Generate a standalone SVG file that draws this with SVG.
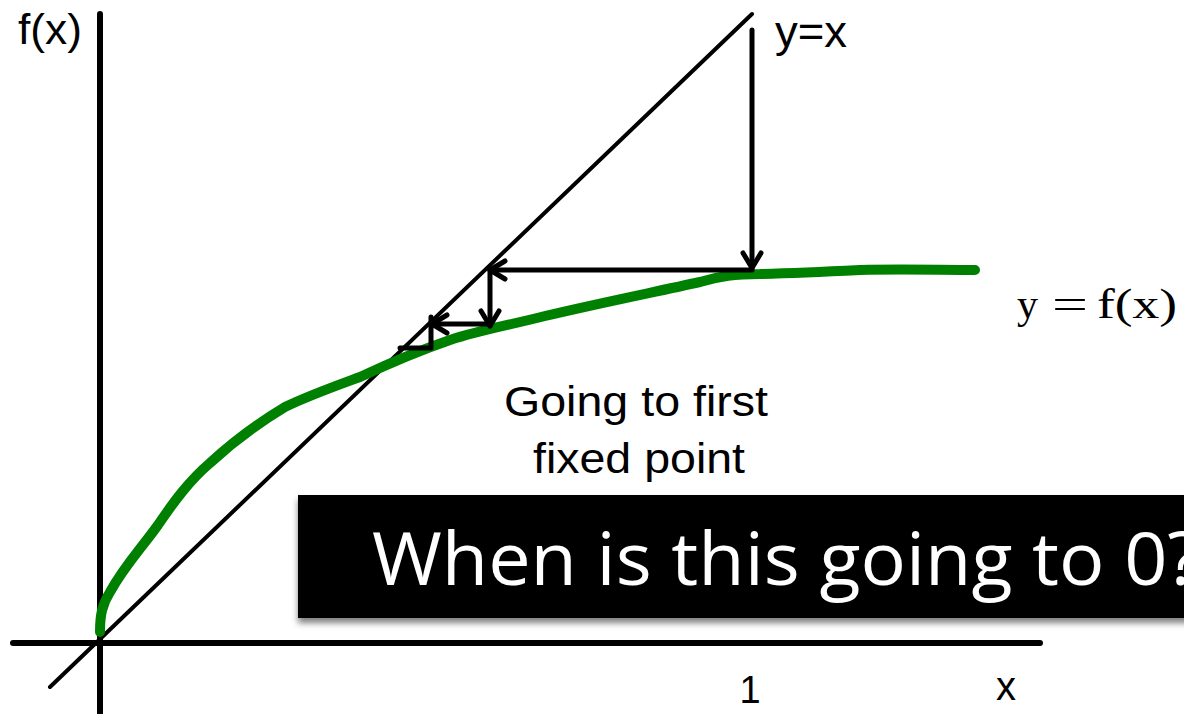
<svg xmlns="http://www.w3.org/2000/svg" width="1184" height="714" viewBox="0 0 1184 714">
<style>
.ax{stroke:#000;stroke-width:6;stroke-linecap:round;fill:none}
.diag{stroke:#000;stroke-width:4;stroke-linecap:round;fill:none}
.ln{stroke:#000;stroke-width:5;stroke-linecap:round;fill:none}
.sans{font-family:"Liberation Sans",Arial,sans-serif;fill:#000}
</style>
<defs>
<marker id="open" viewBox="0 0 24 24" refX="21" refY="12" markerWidth="24" markerHeight="24" markerUnits="userSpaceOnUse" orient="auto">
<path d="M6 3 L21 12 L6 21" fill="none" stroke="#000" stroke-width="5" stroke-linecap="round" stroke-linejoin="round"/>
</marker>
<filter id="sh" x="-5%" y="-10%" width="110%" height="130%">
<feDropShadow dx="0" dy="5" stdDeviation="3" flood-color="#000" flood-opacity="0.5"/>
</filter>
</defs>
<g id="axes">
<line class="ax" x1="100" y1="14" x2="100" y2="714"/>
<line class="ax" x1="13" y1="643" x2="1040" y2="643"/>
<line class="diag" x1="50" y1="687" x2="752" y2="14"/>
</g>
<g id="curve">
<path d="M100 632 C100 615 102 605 110 592 C125 565 140 550 158 525 C175 500 190 480 210 463 C235 440 255 425 285 407 C310 395 330 388 360 377 C390 363 415 352 450 340 C480 330 510 325 545 316 C600 303 650 293 700 282 C720 276 735 274 760 274 C800 273 840 271 860 270 C900 269 940 270 975 270" fill="none" stroke="#008000" stroke-width="10" stroke-linecap="round" stroke-linejoin="round"/>
</g>
<g id="connectors">
<line class="ln" x1="752" y1="30" x2="752" y2="268" marker-end="url(#open)"/>
<line class="ln" x1="752" y1="270" x2="490" y2="270" marker-end="url(#open)"/>
<line class="ln" x1="490" y1="270" x2="490" y2="326" marker-end="url(#open)"/>
<line class="ln" x1="490" y1="324" x2="432" y2="324" marker-end="url(#open)"/>
<polyline class="ln" points="431,317 431,348 400,348" stroke-linejoin="round"/>
</g>
<g id="labels">
<text class="sans" x="18" y="44" font-size="42" textLength="64" lengthAdjust="spacingAndGlyphs">f(x)</text>
<text class="sans" x="775" y="47" font-size="44" textLength="72" lengthAdjust="spacingAndGlyphs">y=x</text>
<text y="318" font-size="42" font-family="'Liberation Serif','Times New Roman',serif"><tspan x="1017">y</tspan><tspan x="1052" textLength="36" lengthAdjust="spacingAndGlyphs">=</tspan><tspan x="1097" textLength="80" lengthAdjust="spacingAndGlyphs">f(x)</tspan></text>
<text class="sans" x="504" y="416" font-size="42" textLength="264" lengthAdjust="spacingAndGlyphs">Going to first</text>
<text class="sans" x="533" y="473" font-size="42" textLength="212" lengthAdjust="spacingAndGlyphs">fixed point</text>
<text class="sans" x="750" y="703" font-size="38" text-anchor="middle">1</text>
<text class="sans" x="1006" y="700" font-size="40" text-anchor="middle">x</text>
</g>
<g id="callout">
<rect x="298" y="495" width="900" height="123" fill="#000" filter="url(#sh)"/>
<text x="372" y="585" font-size="74" fill="#fff" font-family="'Open Sans','Noto Sans',sans-serif" textLength="828" lengthAdjust="spacingAndGlyphs">When is this going to 0?</text>
</g>
</svg>
